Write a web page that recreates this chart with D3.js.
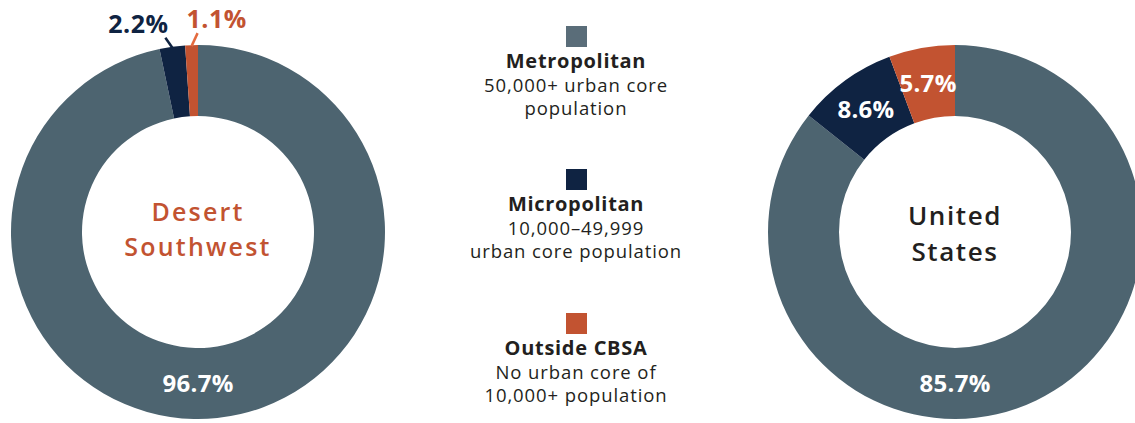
<!DOCTYPE html>
<html>
<head>
<meta charset="utf-8">
<script src="https://cdn.jsdelivr.net/npm/d3@7"></script>
<style>
  body { margin: 0; background: #fff; }
  svg { display: block; font-family: 'Open Sans', 'Lato', sans-serif; }
</style>
</head>
<body>
<svg id="chart" width="1135" height="423"></svg>
<script>
const categories = ['Metropolitan', 'Micropolitan', 'Outside CBSA'];
const desertSouthwest = [96.7, 2.2, 1.1];
const unitedStates = [85.7, 8.6, 5.7];
const regionNames = [['Desert', 'Southwest'], ['United', 'States']];
const legendNotes = [
  ['50,000+ urban core', 'population'],
  ['10,000–49,999', 'urban core population'],
  ['No urban core of', '10,000+ population'],
];

const W = 1135, H = 423;
const outerR = 187, innerR = 116;
const colors = d3.scaleOrdinal().domain(categories).range(['#4d6470', '#0f2342', '#c25331']);
const svg = d3.select('#chart');

const pie = d3.pie().sort(null).value((d) => d.value);
const arc = d3.arc().innerRadius(innerR).outerRadius(outerR);
const midArc = d3.arc().innerRadius((innerR + outerR) / 2).outerRadius((innerR + outerR) / 2);
const fmt = (v) => `${v.toFixed(1)}%`;

function donut(cx, cy, values, name, nameStyle, outsideSmall) {
  const g = svg.append('g').attr('transform', `translate(${cx},${cy})`);
  const slices = pie(values.map((v, i) => ({ key: categories[i], value: v })));
  g.selectAll('path').data(slices).join('path')
    .attr('d', arc)
    .attr('fill', (d) => colors(d.data.key));

  slices.forEach((d) => {
    const mid = (d.startAngle + d.endAngle) / 2;
    const small = outsideSmall && d.data.value < 5;
    if (!small) {
      // label inside the ring, big slice goes to the bottom
      let [x, y] = midArc.centroid(d);
      if (d.data.value > 50) { x = 0; y = (innerR + outerR) / 2; }
      g.append('text')
        .attr('x', x).attr('y', y)
        .attr('text-anchor', 'middle').attr('dy', '0.36em')
        .attr('fill', '#fff').attr('font-weight', 700).attr('font-size', 24)
        .attr('letter-spacing', 0.3)
        .text(fmt(d.data.value));
    } else {
      // thin slice: leader line and outside label
      const sx = Math.sin(mid) * (outerR - 1), sy = -Math.cos(mid) * (outerR - 1);
      const isMicro = d.data.key === 'Micropolitan';
      const ex = isMicro ? sx - 7 : sx + 6;
      const ey = sy - (isMicro ? 10 : 13);
      g.append('line')
        .attr('x1', sx).attr('y1', sy).attr('x2', ex).attr('y2', ey)
        .attr('stroke', isMicro ? '#0f2342' : '#e46a3e').attr('stroke-width', 2.5);
      g.append('text')
        .attr('x', isMicro ? ex - 27 : ex + 19)
        .attr('y', ey - 5)
        .attr('text-anchor', 'middle')
        .attr('fill', colors(d.data.key)).attr('font-weight', 700).attr('font-size', 25)
        .attr('letter-spacing', 0.5)
        .text(fmt(d.data.value));
    }
  });

  // region name, two lines
  g.selectAll('text.name').data(name).join('text')
    .attr('class', 'name')
    .attr('x', 0).attr('y', (d, i) => nameStyle.y + i * nameStyle.step)
    .attr('text-anchor', 'middle')
    .attr('fill', nameStyle.color).attr('font-size', nameStyle.size).attr('font-weight', 600)
    .attr('letter-spacing', nameStyle.spacing)
    .text((d) => d);
}

donut(198, 232, desertSouthwest, regionNames[0], { color: '#c25331', size: 25, spacing: 2.2, y: -11, step: 34.5 }, true);
donut(955, 232, unitedStates, regionNames[1], { color: '#231f20', size: 26, spacing: 1.6, y: -7, step: 35.5 }, false);

// legend
const legendX = 576;
const legendTops = [26, 169, 313];
categories.forEach((c, i) => {
  const g = svg.append('g').attr('transform', `translate(${legendX},${legendTops[i]})`);
  g.append('rect').attr('x', -10).attr('y', 0).attr('width', 21).attr('height', 21)
    .attr('fill', i === 0 ? '#5a6d79' : colors(c));
  g.append('text').attr('y', 42).attr('text-anchor', 'middle')
    .attr('fill', '#231f20').attr('font-weight', 700).attr('font-size', 20)
    .attr('letter-spacing', 0.7)
    .text(c);
  legendNotes[i].forEach((line, j) => {
    g.append('text').attr('y', 66 + j * 23).attr('text-anchor', 'middle')
      .attr('fill', '#231f20').attr('font-size', 18.5).attr('letter-spacing', 0.9)
      .text(line);
  });
});
</script>
</body>
</html>
